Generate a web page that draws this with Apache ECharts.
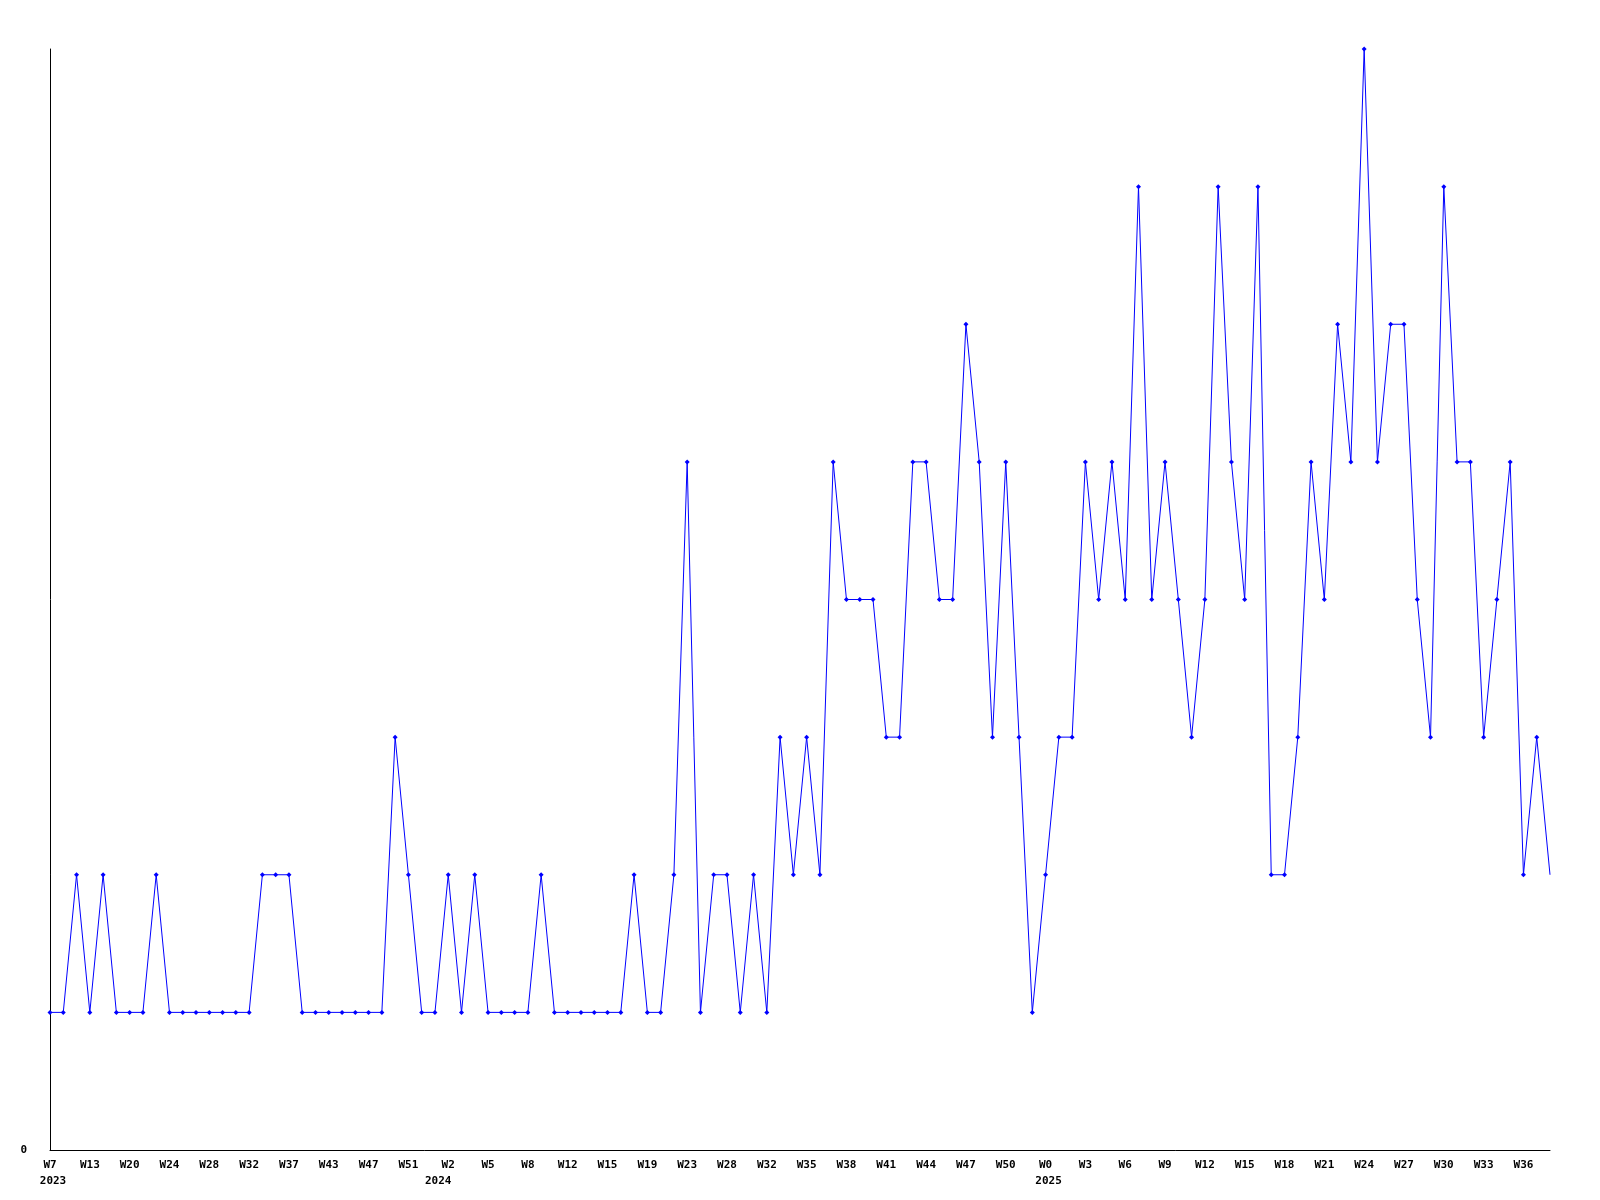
<!DOCTYPE html>
<html>
<head>
<meta charset="utf-8">
<style>html,body{margin:0;padding:0;background:#fff;}#chart{width:1600px;height:1200px;}</style>
<script src="https://cdn.jsdelivr.net/npm/echarts@6/dist/echarts.min.js"></script>
</head>
<body>
<div id="chart"></div>
<script>
// Week numbers per year (points on the x axis)
var weeks2023 = [7,9,11,13,15,17,20,21,22,24,25,27,28,30,31,32,34,35,37,39,41,43,44,46,47,48,50,51,52];
var weeks2024 = [1,2,3,4,5,6,7,8,9,11,12,13,14,15,16,18,19,21,22,23,25,27,28,29,31,32,33,34,35,36,37,38,39,40,41,42,43,44,45,46,47,48,49,50,51,52];
var weeks2025 = [0,1,2,3,4,5,6,7,8,9,10,11,12,13,14,15,16,17,18,19,20,21,22,23,24,25,26,27,28,29,30,31,32,33,34,35,36,37,38];

// Values
var values = [
  1,1,2,1,2,1,1,1,2,1,
  1,1,1,1,1,1,2,2,2,1,
  1,1,1,1,1,1,3,2,1,1,
  2,1,2,1,1,1,1,2,1,1,
  1,1,1,1,2,1,1,2,5,1,
  2,2,1,2,1,3,2,3,2,5,
  4,4,4,3,3,5,5,4,4,6,
  5,3,5,3,1,2,3,3,5,4,
  5,4,7,4,5,4,3,4,7,5,
  4,7,2,2,3,5,4,6,5,8,
  5,6,6,4,3,7,5,5,3,4,
  5,2,3,2
];

// Year labels (shown under the first labelled week of each year)
var yearLabels = { '2023-W7': '2023', '2024-W2': '2024', '2025-W0': '2025' };

var categories = []
  .concat(weeks2023.map(function(w){ return '2023-W' + w; }))
  .concat(weeks2024.map(function(w){ return '2024-W' + w; }))
  .concat(weeks2025.map(function(w){ return '2025-W' + w; }));

var chart = echarts.init(document.getElementById('chart'), null, {renderer: 'canvas'});
var font = {fontFamily: 'DejaVu Sans Mono', fontWeight: 'bold', fontSize: 11, color: '#000'};

chart.setOption({
  animation: false,
  backgroundColor: '#fff',
  grid: {left: 50, right: 50, top: 49, bottom: 50, containLabel: false},
  xAxis: [{
    type: 'category',
    data: categories,
    boundaryGap: false,
    axisLine: {lineStyle: {color: '#000', width: 1}},
    axisTick: {show: false},
    splitLine: {show: false},
    axisLabel: Object.assign({
      interval: 2,
      margin: 10,
      formatter: function(v){ return v.split('-')[1]; }
    }, font)
  }, {
    type: 'category',
    data: categories,
    boundaryGap: false,
    position: 'bottom',
    axisLine: {show: false},
    axisTick: {show: false},
    splitLine: {show: false},
    axisLabel: Object.assign({
      interval: 0,
      margin: 26,
      formatter: function(v){
        var y = yearLabels[v];
        if (!y) return '';
        return (y === '2024' ? '{r|' : '{l|') + y + '}';
      },
      rich: {
        l: Object.assign({padding: [0,0,0,6]}, font),
        r: Object.assign({padding: [0,20,0,0]}, font)
      }
    }, font)
  }],
  yAxis: {
    type: 'value',
    min: 0,
    max: 8,
    interval: 8,
    axisLine: {show: true, lineStyle: {color: '#000', width: 1}},
    axisTick: {show: false},
    splitLine: {show: false},
    axisLabel: Object.assign({
      margin: 23,
      formatter: function(v){ return v === 0 ? '0' : ''; }
    }, font)
  },
  series: [{
    type: 'line',
    data: values.map(function(v, i){
      return i === values.length - 1 ? {value: v, symbolSize: 0} : v;
    }),
    xAxisIndex: 0,
    symbol: 'diamond',
    symbolSize: 5,
    showSymbol: true,
    lineStyle: {color: '#0000ff', width: 1},
    itemStyle: {color: '#0000ff'},
    emphasis: {disabled: true}
  }]
});
</script>
</body>
</html>
